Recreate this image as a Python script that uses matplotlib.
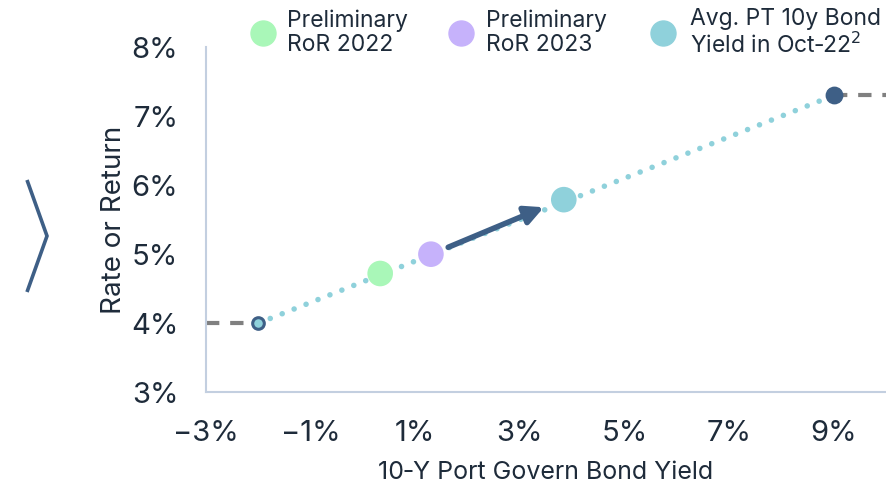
import matplotlib
matplotlib.use("Agg")
import matplotlib.pyplot as plt
from matplotlib.lines import Line2D

plt.rcParams['font.family'] = ['Inter', 'DejaVu Sans']

# Data
line_x = [-2.0, 9.0]
line_y = [4.0, 7.3]
dash_left_x = [-3.0, -2.0]
dash_left_y = [4.0, 4.0]
dash_right_x = [9.0, 10.0]
dash_right_y = [7.3, 7.3]
point_labels = ["Preliminary\nRoR 2022", "Preliminary\nRoR 2023", "Avg. PT 10y Bond\nYield in Oct\u201122$^2$"]
point_x = [0.33, 1.30, 3.84]
point_y = [4.72, 5.00, 5.79]
point_colors = ["#a9f7b8", "#c6b2fb", "#8fd1db"]
arrow_start = (1.63, 5.10)
arrow_end = (3.46, 5.68)
xticks = [-3, -1, 1, 3, 5, 7, 9]
yticks = [3, 4, 5, 6, 7, 8]

navy = "#3e5f86"
teal = "#8fd1db"
text_col = "#1e2b3a"
spine_col = "#c3cfe0"

fig = plt.figure(figsize=(8.86, 4.86), dpi=100)
ax = fig.add_axes([0.2325, 0.193, 0.7675, 0.71])
ax.set_xlim(-3, 10)
ax.set_ylim(3, 8)

# dashed gray
ax.plot(dash_left_x, dash_left_y, color="#808080", lw=3, dashes=(3.2, 2.6), zorder=2)
ax.plot(dash_right_x, dash_right_y, color="#808080", lw=3, dashes=(3.2, 2.6), zorder=2)
# dotted teal line
ax.plot(line_x, line_y, color=teal, lw=4, linestyle=(0, (0.01, 2.3)),
        dash_capstyle='round', zorder=3)
# end points
ax.scatter([line_x[0]], [line_y[0]], s=70, facecolor=teal, edgecolor=navy, linewidth=2.2, zorder=5)
ax.scatter([line_x[1]], [line_y[1]], s=140, color=navy, zorder=5)
# main points
ax.scatter(point_x, point_y, s=340, c=point_colors, zorder=6, linewidth=0)

ax.annotate("", xy=arrow_end, xytext=arrow_start,
            arrowprops=dict(arrowstyle="-|>,head_length=1.1,head_width=0.55",
                            color=navy, lw=4, shrinkA=0, shrinkB=0), zorder=7)

for s in ["top", "right"]:
    ax.spines[s].set_visible(False)
for s in ["left", "bottom"]:
    ax.spines[s].set_color(spine_col)
    ax.spines[s].set_linewidth(1.5)
ax.tick_params(length=0, labelsize=21, labelcolor=text_col)
ax.tick_params(axis='x', pad=20)
ax.tick_params(axis='y', pad=20)
ax.set_xticks(xticks)
ax.set_xticklabels([f"{t}%".replace("-", "\u2212") for t in xticks])
ax.set_yticks(yticks)
ax.set_yticklabels([f"{t}%" for t in yticks])
ax.set_xlabel("10\u2011Y Port Govern Bond Yield", fontsize=18, color=text_col, labelpad=10)
ax.set_ylabel("Rate or Return", fontsize=20, color=text_col, labelpad=3)

# legend (manual)
leg_mx = [263, 461, 663]
leg_tx = [287, 486, 690]
W, H = 886, 486
for mx, tx, lab, c in zip(leg_mx, leg_tx, point_labels, point_colors):
    fig.add_artist(Line2D([mx / W], [1 - 33 / H], marker="o", markersize=18,
                          color=c, transform=fig.transFigure, linewidth=0))
    fig.text(tx / W, 1 - 33 / H, lab, fontsize=16.5, color=text_col,
             va="center", ha="left", linespacing=1.1)

# chevron
fig.add_artist(Line2D([27 / W, 47 / W, 27 / W], [1 - 180 / H, 1 - 236 / H, 1 - 292 / H],
                      color=navy, lw=2.6, transform=fig.transFigure,
                      solid_capstyle='butt', solid_joinstyle='miter'))

fig.savefig("out.png", dpi=100)
